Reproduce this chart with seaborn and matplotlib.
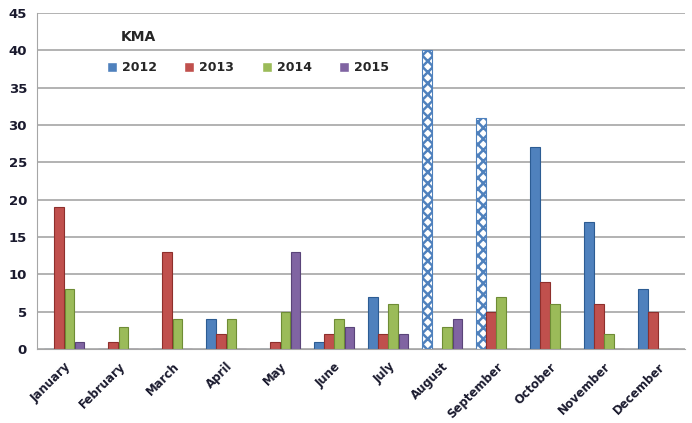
import pandas as pd
import numpy as np
import matplotlib
matplotlib.use("Agg")
import matplotlib.pyplot as plt
import seaborn as sns

sns.set_style("white")

months = ["January", "February", "March", "April", "May", "June", "July",
          "August", "September", "October", "November", "December"]
years = ["2012", "2013", "2014", "2015"]
v2012 = [0, 0, 0, 4, 0, 1, 7, 40, 31, 27, 17, 8]
v2013 = [19, 1, 13, 2, 1, 2, 2, 0, 5, 9, 6, 5]
v2014 = [8, 3, 4, 4, 5, 4, 6, 3, 7, 6, 2, 0]
v2015 = [1, 0, 0, 0, 13, 3, 2, 4, 0, 0, 0, 0]

colors = ["#4F81BD", "#C0504D", "#9BBB59", "#8064A2"]
edges = ["#2C5C93", "#8E2F2C", "#6E8C35", "#5A4479"]

df = pd.DataFrame({
    "month": months * 4,
    "year": np.repeat(years, 12),
    "value": v2012 + v2013 + v2014 + v2015,
})

plt.rcParams["hatch.linewidth"] = 1.8
fig, ax = plt.subplots(figsize=(6.92, 4.23), dpi=100)
fig.subplots_adjust(left=0.054, right=0.99, top=0.969, bottom=0.175)

sns.barplot(data=df, x="month", y="value", hue="year", palette=colors,
            saturation=1, width=0.75, gap=0.05, ax=ax, legend=True)

for cont, ec in zip(ax.containers, edges):
    for p in cont:
        p.set_edgecolor(ec)
        p.set_linewidth(0.8)

# August / September 2012 drawn with a checkered fill
for i in (7, 8):
    p = ax.containers[0][i]
    p.set_facecolor("white")
    p.set_edgecolor("#4F81BD")
    p.set_hatch("xxx")

ax.set_ylim(0, 45)
ax.set_yticks(range(0, 46, 5))
ax.set_xlim(-0.5, 11.5)
ax.yaxis.grid(True, color="#A6A6A6", linewidth=1.2)
ax.set_axisbelow(True)
for s in ["top", "right"]:
    ax.spines[s].set_visible(False)
ax.spines["left"].set_color("#A6A6A6")
ax.spines["bottom"].set_color("#A6A6A6")

ax.set_xlabel("")
ax.set_ylabel("")
ax.tick_params(axis="y", length=4, color="#A6A6A6", labelsize=9.5,
               labelcolor="#1A1A2E")
ax.set_xticks(range(12))
ax.set_xticklabels(months, rotation=45, ha="right", rotation_mode="anchor",
                   fontsize=8.5, fontweight="bold")
ax.tick_params(axis="x", length=0, pad=8, labelcolor="#1A1A2E")
ax.set_xticks(np.arange(-0.5, 12, 1), minor=True)
ax.tick_params(axis="x", which="minor", length=5, color="#A6A6A6")
for lab in ax.get_yticklabels():
    lab.set_fontweight("bold")

ax.text(0.128, 0.93, "KMA", transform=ax.transAxes, fontsize=10,
        fontweight="bold", ha="left", va="center")
leg = ax.legend(loc="upper left", bbox_to_anchor=(0.09, 0.89), ncol=4,
                frameon=False, handlelength=0.8, handleheight=0.8,
                handletextpad=0.4, columnspacing=2.2,
                prop={"weight": "bold", "size": 9})

fig.savefig("out.png", dpi=100)
